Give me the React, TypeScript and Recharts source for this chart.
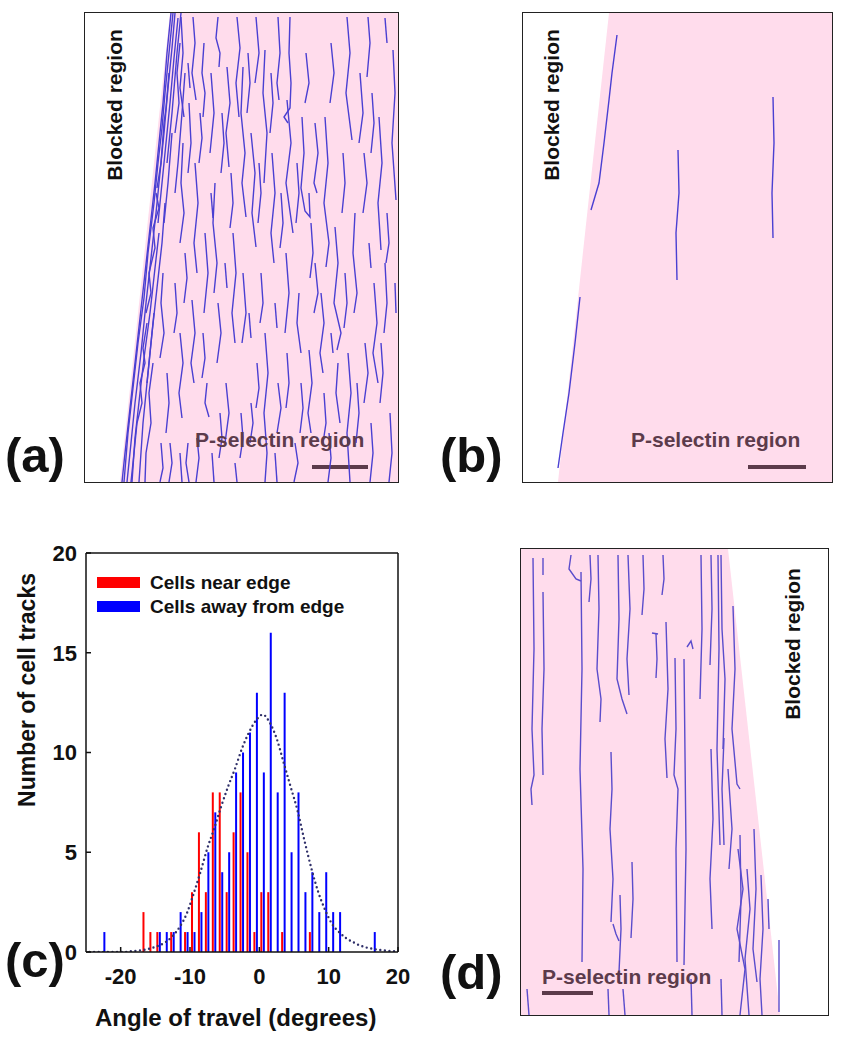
import { ComposedChart, Bar, Line, Area, Scatter, XAxis, YAxis, Legend, ReferenceLine } from 'recharts';

const FONT = '"Liberation Sans", Arial, Helvetica, sans-serif';

// ---- panel (c): histogram of angle of travel ----
const angles = [
  -24.5, -23.5, -22.5, -21.5, -20.5, -19.5, -18.5, -17.5, -16.5, -15.5, -14.5, -13.5, -12.5, -11.5, -10.5,
  -9.5, -8.5, -7.5, -6.5, -5.5, -4.5, -3.5, -2.5, -1.5, -0.5, 0.5, 1.5, 2.5, 3.5, 4.5,
  5.5, 6.5, 7.5, 8.5, 9.5, 10.5, 11.5, 12.5, 13.5, 14.5, 15.5, 16.5, 17.5, 18.5, 19.5,
];
const nearEdge = [
  0, 0, 0, 0, 0, 0, 0, 0, 2, 1, 1, 0, 1, 0, 1,
  3, 6, 3, 8, 8, 3, 6, 8, 5, 1, 3, 3, 0, 1, 0,
  0, 0, 1, 0, 0, 0, 0, 0, 0, 0, 0, 0, 0, 0, 0,
];
const awayEdge = [
  0, 0, 1, 0, 0, 0, 0, 0, 0, 0, 1, 1, 1, 2, 1,
  1, 2, 5, 7, 4, 5, 9, 10, 11, 13, 9, 16, 8, 13, 5,
  8, 3, 4, 2, 4, 2, 2, 0, 0, 0, 0, 1, 0, 0, 0,
];
const gaussFit = [
  0, 0, 0, 0, 0, 0, 0.04, 0.07, 0.12, 0.2, 0.32, 0.5, 0.8, 1.25, 1.9,
  2.9, 4.0, 5.2, 6.2, 7.3, 8.3, 9.2, 10.2, 11.0, 11.6, 11.9, 11.5, 10.7, 9.5, 8.3,
  7.1, 5.6, 4.2, 3.0, 2.1, 1.4, 1.0, 0.7, 0.5, 0.33, 0.22, 0.15, 0.1, 0.06, 0.04,
];
const xTicks = [-20, -10, 0, 10, 20];
const yTicks = [0, 5, 10, 15, 20];
const legendOrder = ['near', 'away'];

// ---- panels (a), (b), (d): cell tracks, in panel pixels from top-left ----
const edgeA = [[35, 469], [85, 0], [313, 0]];
const edgeB = [[35, 469], [86, 0], [309, 0]];
const edgeD = [[0, 0], [207, 0], [259, 466]];

const scaleBarA = [[227, 454], [283, 454]];
const scaleBarB = [[225, 454], [283, 454]];
const scaleBarD = [[21, 444], [72, 444]];

const tracksA = [
  [[86, 0], [82, 40], [78, 90], [74, 130], [70, 170], [65, 215], [60, 260], [55, 305], [50, 350], [45, 395], [40, 440], [37, 469]],
  [[88, 0], [85, 30], [80, 80], [77, 115], [73, 150], [69, 190], [63, 240], [59, 285], [53, 330], [48, 375], [43, 420], [39, 469]],
  [[90, 0], [87, 35], [83, 75], [79, 120], [75, 160], [71, 200], [66, 245], [61, 290], [56, 340], [50, 390], [46, 430], [42, 469]],
  [[93, 5], [89, 45], [85, 90], [80, 140], [76, 180], [73, 210]],
  [[74, 220], [70, 255], [65, 300], [59, 345], [55, 380], [50, 425], [47, 469]],
  [[84, 60], [81, 95], [79, 110], [76, 150], [72, 175]],
  [[71, 180], [74, 195], [68, 215], [70, 235], [64, 260], [66, 280], [61, 300]],
  [[62, 310], [58, 335], [60, 350], [55, 370], [57, 390], [52, 410], [49, 440], [46, 469]],
  [[96, 0], [92, 40], [87, 100], [82, 150]],
  [[80, 190], [77, 230], [72, 275], [67, 320], [63, 360], [58, 410], [54, 469]],
  [[87, 120], [83, 170], [79, 210]],
  [[69, 300], [65, 340], [62, 370]],
  [[100, 60], [97, 100], [93, 150], [90, 180]],
  [[95, 30], [92, 60], [94, 90], [90, 120]],
  [[98, 130], [96, 170], [99, 200], [95, 230]],
  [[68, 350], [64, 380], [66, 410], [61, 440], [60, 469]],
  [[78, 260], [76, 290], [79, 320], [75, 345]],
  [[96, 4], [98, 40], [95, 75], [99, 104]],
  [[108, 4], [110, 30], [107, 60], [111, 87]],
  [[119, 30], [117, 60], [120, 80], [118, 104]],
  [[133, 4], [131, 25], [135, 40], [134, 54]],
  [[142, 54], [145, 90], [141, 120], [144, 154]],
  [[152, 4], [155, 35], [151, 70], [154, 104]],
  [[158, 54], [156, 100], [160, 140], [157, 170], [161, 204]],
  [[166, 120], [170, 160], [167, 200], [171, 234]],
  [[180, 37], [178, 80], [182, 120], [179, 170]],
  [[193, 4], [195, 40], [192, 70], [194, 87]],
  [[205, 4], [204, 40], [206, 70], [205, 95], [199, 104], [203, 110]],
  [[202, 87], [206, 130], [201, 170], [208, 220]],
  [[217, 104], [219, 140], [216, 175], [220, 198], [225, 204], [224, 180]],
  [[230, 110], [233, 140], [229, 170], [232, 180]],
  [[240, 104], [243, 150], [239, 190], [244, 230], [241, 254]],
  [[250, 214], [253, 250], [249, 290], [256, 320], [252, 337]],
  [[262, 4], [265, 40], [261, 80], [267, 127]],
  [[270, 200], [268, 240], [272, 280], [269, 300]],
  [[283, 4], [285, 30], [282, 64]],
  [[294, 104], [297, 150], [293, 190], [296, 237]],
  [[308, 37], [310, 80], [307, 130], [311, 187]],
  [[289, 270], [292, 310], [288, 340], [293, 370]],
  [[263, 340], [266, 380], [262, 420], [265, 469]],
  [[224, 337], [227, 370], [223, 400], [226, 420]],
  [[253, 350], [251, 380], [255, 410]],
  [[193, 370], [196, 395], [192, 420]],
  [[180, 320], [183, 360], [179, 400], [182, 440], [180, 469]],
  [[166, 390], [168, 410], [165, 430]],
  [[141, 370], [144, 400], [140, 430]],
  [[122, 370], [120, 390], [124, 404]],
  [[107, 287], [110, 320], [106, 350], [109, 370]],
  [[95, 320], [98, 350], [94, 380], [97, 405]],
  [[85, 430], [87, 450], [84, 469]],
  [[95, 440], [97, 469]],
  [[103, 430], [101, 450], [104, 469]],
  [[112, 425], [114, 445], [111, 469]],
  [[120, 220], [123, 260], [119, 300]],
  [[130, 170], [128, 210], [132, 250], [129, 280]],
  [[148, 220], [151, 260], [147, 300], [150, 330]],
  [[133, 290], [136, 320], [132, 350]],
  [[158, 260], [161, 300], [157, 330]],
  [[201, 240], [204, 280], [200, 320]],
  [[214, 280], [212, 310], [216, 340]],
  [[236, 280], [239, 310], [235, 340], [238, 360]],
  [[279, 140], [282, 170], [278, 200]],
  [[300, 250], [302, 290], [299, 320]],
  [[305, 400], [307, 440], [304, 469]],
  [[286, 410], [288, 440], [285, 469]],
  [[244, 420], [246, 445], [243, 469]],
  [[210, 430], [213, 450], [209, 469]],
  [[190, 440], [192, 469]],
  [[150, 450], [152, 469]],
  [[127, 440], [129, 469]],
  [[171, 4], [174, 40], [170, 70]],
  [[187, 140], [190, 180], [186, 220], [189, 250]],
  [[221, 40], [224, 70], [220, 90]],
  [[246, 30], [249, 60], [245, 90]],
  [[275, 60], [278, 100], [274, 130]],
  [[300, 5], [302, 30]],
  [[110, 150], [113, 190], [109, 230], [112, 260]],
  [[104, 90], [106, 130], [103, 160]],
  [[126, 60], [129, 100], [125, 140]],
  [[280, 330], [283, 360], [279, 390]],
  [[230, 250], [233, 280], [229, 300]],
  [[176, 260], [178, 290], [175, 310]],
  [[100, 240], [102, 265], [99, 290]],
  [[115, 100], [117, 125], [114, 150]],
  [[137, 100], [139, 130], [136, 160]],
  [[146, 160], [148, 190], [145, 215]],
  [[163, 40], [165, 70], [162, 100]],
  [[174, 150], [176, 180], [173, 210]],
  [[186, 60], [188, 90], [185, 120]],
  [[196, 180], [198, 210], [195, 235]],
  [[212, 150], [214, 180], [211, 210]],
  [[226, 210], [228, 240], [225, 265]],
  [[258, 140], [260, 170], [257, 200]],
  [[287, 80], [289, 110], [286, 140]],
  [[302, 200], [304, 230], [301, 250]],
  [[272, 370], [274, 400], [271, 430]],
  [[296, 330], [298, 360], [295, 390]],
  [[239, 380], [241, 410], [238, 430]],
  [[216, 370], [218, 395], [215, 420]],
  [[202, 340], [204, 370], [201, 395]],
  [[172, 350], [174, 375], [171, 395]],
  [[156, 400], [158, 425], [155, 445]],
  [[135, 400], [137, 425], [134, 445]],
  [[118, 320], [120, 345], [117, 365]],
  [[126, 180], [128, 205]],
  [[103, 50], [105, 75]],
  [[90, 270], [92, 300], [89, 320]],
  [[82, 360], [84, 390], [81, 420]],
  [[76, 430], [78, 455], [75, 469]],
  [[260, 260], [262, 290], [259, 315]],
  [[284, 230], [286, 255]],
  [[310, 270], [311, 300]],
  [[246, 320], [248, 340]],
  [[190, 290], [192, 315]],
  [[164, 300], [166, 325]],
  [[140, 250], [142, 275]],
];

const tracksB = [
  [[94, 22], [89, 60], [86, 87], [81, 130], [76, 170], [68, 197]],
  [[57, 284], [52, 330], [46, 380], [40, 420], [35, 455]],
  [[155, 137], [156, 180], [153, 220], [154, 267]],
  [[250, 84], [251, 130], [249, 180], [250, 225]],
];

const tracksD = [
  [[12, 9], [13, 100], [11, 180], [13, 226], [10, 240], [11, 256]],
  [[22, 9], [22, 26]],
  [[22, 43], [23, 120], [21, 180], [22, 226]],
  [[50, 6], [48, 20], [55, 30], [60, 32]],
  [[60, 23], [61, 120], [59, 220], [62, 320], [61, 413]],
  [[69, 6], [70, 30], [68, 53]],
  [[77, 6], [78, 60], [76, 120], [80, 150], [79, 173]],
  [[90, 203], [91, 240], [89, 280], [92, 330], [90, 373]],
  [[92, 375], [95, 385], [98, 392]],
  [[97, 6], [98, 70], [96, 130], [101, 150], [106, 165]],
  [[99, 346], [100, 380], [98, 423]],
  [[107, 6], [109, 60], [106, 110], [108, 146]],
  [[111, 313], [112, 350], [110, 389]],
  [[122, 6], [123, 40], [121, 66]],
  [[131, 84], [137, 85]],
  [[135, 85], [136, 110], [135, 129]],
  [[142, 6], [143, 30], [141, 46]],
  [[145, 73], [147, 140], [144, 190], [146, 229]],
  [[154, 109], [155, 180], [153, 226], [157, 240], [155, 300], [156, 413]],
  [[163, 110], [165, 300], [163, 416]],
  [[166, 98], [170, 92], [172, 100]],
  [[180, 6], [181, 80], [179, 150]],
  [[190, 6], [191, 60], [189, 116]],
  [[197, 6], [198, 100], [196, 200], [199, 296]],
  [[200, 6], [201, 80], [204, 130], [202, 200]],
  [[203, 189], [201, 240], [203, 296]],
  [[212, 57], [214, 120], [211, 180], [216, 235], [219, 240]],
  [[219, 286], [220, 350], [218, 413]],
  [[233, 280], [235, 340], [232, 400], [236, 433]],
  [[240, 326], [242, 380], [239, 430], [241, 466]],
  [[247, 350], [248, 380]],
  [[258, 391], [258, 463]],
  [[217, 300], [222, 340], [216, 380], [224, 420], [219, 466]],
  [[226, 320], [229, 360], [224, 410], [228, 466]],
  [[87, 440], [88, 466]],
  [[102, 440], [104, 466]],
  [[6, 440], [8, 466]],
  [[170, 430], [171, 466]],
  [[200, 430], [201, 466]],
  [[190, 200], [192, 270], [189, 330], [191, 380]],
  [[207, 220], [211, 280], [208, 320]],
];

const PINK = '#ffdcec';
const MAUVE = '#5c3b4b';
const noDot = () => null;

function TrackPanel({ left, top, width, height, edge, tracks, bar, color }: any) {
  const pink = edge.map(([x, y]: number[]) => ({ x, y }));
  return (
    <div style={{ position: 'absolute', left, top, width, height }}>
      <ComposedChart width={width} height={height} data={pink} margin={{ top: 0, right: 0, bottom: 0, left: 0 }}>
        <XAxis type="number" dataKey="x" domain={[0, width]} hide allowDataOverflow />
        <YAxis type="number" dataKey="y" domain={[0, height]} reversed hide allowDataOverflow />
        <Area type="linear" dataKey="y" fill={PINK} fillOpacity={1} stroke="none" baseValue={height} isAnimationActive={false} />
        {tracks.map((t: number[][], i: number) => (
          <Scatter
            key={i}
            data={t.map(([x, y]) => ({ x, y }))}
            line={{ stroke: color, strokeWidth: 1.4 }}
            lineType="joint"
            shape={noDot}
            isAnimationActive={false}
          />
        ))}
        <ReferenceLine
          segment={[{ x: bar[0][0], y: bar[0][1] }, { x: bar[1][0], y: bar[1][1] }]}
          stroke={MAUVE}
          strokeWidth={4}
        />
      </ComposedChart>
      <div style={{ position: 'absolute', left: -1, top: -1, width, height, border: '1.5px solid #222', pointerEvents: 'none' }} />
    </div>
  );
}

const renderLegend = (props: any) => {
  const items = legendOrder
    .map((k) => (props.payload || []).find((p: any) => p.dataKey === k))
    .filter(Boolean);
  return (
    <div style={{ display: 'flex', flexDirection: 'column', gap: 7 }}>
      {items.map((p: any) => (
        <div key={p.value} style={{ display: 'flex', alignItems: 'center', height: 17 }}>
          <span style={{ display: 'inline-block', width: 43, height: 11, background: p.color, marginRight: 10 }} />
          <span style={{ fontFamily: FONT, fontWeight: 700, fontSize: 19, color: '#111' }}>{p.value}</span>
        </div>
      ))}
    </div>
  );
};

function Histogram() {
  const data = angles.map((a, i) => ({ angle: a, near: nearEdge[i], away: awayEdge[i], fit: gaussFit[i] }));
  const axisStroke = { stroke: '#111', strokeWidth: 1.5 };
  const tickStyle = { fontSize: 22, fontWeight: 700, fill: '#111', fontFamily: FONT };
  return (
    <ComposedChart width={420} height={520} data={data} barGap={0.5} margin={{ top: 23, right: 22, bottom: 68, left: 46 }}>
      <XAxis
        type="number"
        dataKey="angle"
        domain={[-25, 20]}
        ticks={xTicks}
        allowDataOverflow
        height={30}
        tickSize={-5}
        tickMargin={21}
        tick={tickStyle}
        axisLine={axisStroke}
        tickLine={axisStroke}
      />
      <XAxis
        xAxisId="top"
        orientation="top"
        type="number"
        domain={[-25, 20]}
        ticks={xTicks}
        allowDataOverflow
        mirror
        tick={false}
        tickSize={5}
        axisLine={axisStroke}
        tickLine={axisStroke}
      />
      <YAxis
        type="number"
        domain={[0, 20]}
        ticks={yTicks}
        allowDataOverflow
        width={40}
        tickSize={-5}
        tickMargin={14}
        tick={tickStyle}
        axisLine={axisStroke}
        tickLine={axisStroke}
      />
      <YAxis
        yAxisId="right"
        orientation="right"
        type="number"
        domain={[0, 20]}
        ticks={yTicks}
        allowDataOverflow
        mirror
        tick={false}
        tickSize={5}
        axisLine={axisStroke}
        tickLine={axisStroke}
      />
      <Legend
        layout="vertical"
        align="center"
        verticalAlign="middle"
        content={renderLegend}
        wrapperStyle={{ left: 97, top: 44, width: 280 }}
      />
      <Bar dataKey="near" name="Cells near edge" fill="#ff0000" barSize={2} isAnimationActive={false} />
      <Bar dataKey="away" name="Cells away from edge" fill="#0000ff" barSize={2} isAnimationActive={false} />
      <Line
        dataKey="fit"
        type="monotone"
        stroke="#30306a"
        strokeWidth={2.4}
        strokeDasharray="0 4.6"
        strokeLinecap="round"
        dot={false}
        legendType="none"
        isAnimationActive={false}
      />
    </ComposedChart>
  );
}

const bold = (size: number, color = '#111') => ({
  position: 'absolute' as const,
  fontFamily: FONT,
  fontWeight: 700,
  fontSize: size,
  color,
  whiteSpace: 'nowrap' as const,
  lineHeight: 1,
});

function Rotated({ cx, cy, size, children }: any) {
  return (
    <div style={{ ...bold(size), left: cx, top: cy, transform: 'translate(-50%, -50%) rotate(-90deg)' }}>{children}</div>
  );
}

export default function App() {
  return (
    <div style={{ position: 'absolute', left: 0, top: 0, width: 847, height: 1050, background: '#fff', overflow: 'hidden' }}>
      <TrackPanel left={85} top={13} width={313} height={469} edge={edgeA} tracks={tracksA} bar={scaleBarA} color="#4a3fd2" />
      <TrackPanel left={523} top={13} width={309} height={469} edge={edgeB} tracks={tracksB} bar={scaleBarB} color="#4a3fd2" />
      <TrackPanel left={521} top={549} width={307} height={466} edge={edgeD} tracks={tracksD} bar={scaleBarD} color="#5a4ccc" />

      <Rotated cx={114} cy={105} size={21}>Blocked region</Rotated>
      <Rotated cx={551} cy={105} size={21}>Blocked region</Rotated>
      <Rotated cx={792} cy={644} size={21}>Blocked region</Rotated>

      <div style={{ ...bold(21, MAUVE), left: 195, top: 429 }}>P-selectin region</div>
      <div style={{ ...bold(21, MAUVE), left: 631, top: 429 }}>P-selectin region</div>
      <div style={{ ...bold(21, MAUVE), left: 542, top: 966 }}>P-selectin region</div>

      <div style={{ ...bold(49), left: 5, top: 431 }}>(a)</div>
      <div style={{ ...bold(49), left: 440, top: 431 }}>(b)</div>
      <div style={{ ...bold(49), left: 5, top: 936 }}>(c)</div>
      <div style={{ ...bold(49), left: 440, top: 948 }}>(d)</div>

      <div style={{ position: 'absolute', left: 0, top: 530 }}>
        <Histogram />
      </div>
      <Rotated cx={27} cy={690} size={23}>Number of cell tracks</Rotated>
      <div style={{ ...bold(24), left: 95, top: 1006 }}>Angle of travel (degrees)</div>
    </div>
  );
}
